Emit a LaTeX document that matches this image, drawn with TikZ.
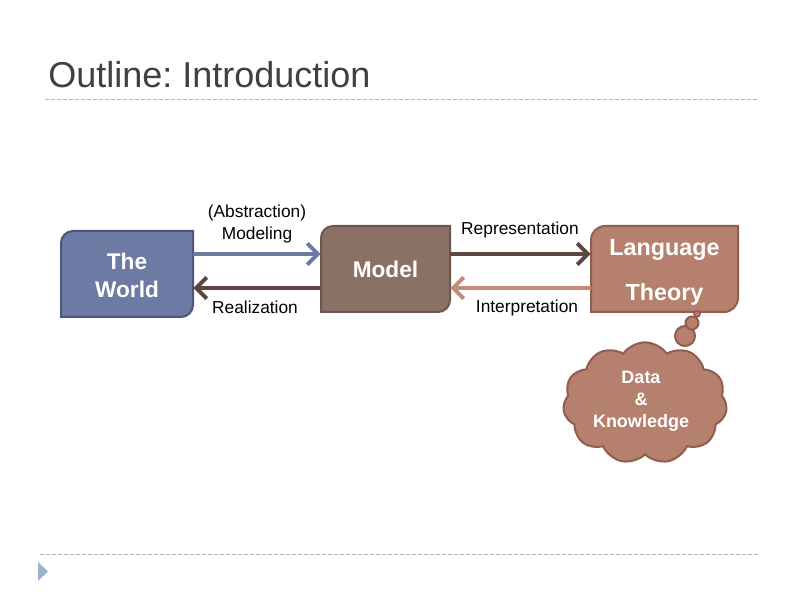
\documentclass[tikz,border=0pt]{standalone}
\usepackage{fontspec}
\setmainfont{Liberation Sans}
\usetikzlibrary{arrows.meta,shapes.symbols}
\definecolor{titlegray}{HTML}{404040}
\definecolor{dashgray}{HTML}{B4B4B4}
\definecolor{tri}{HTML}{9EB1CD}
\definecolor{worldfill}{HTML}{6C7AA4}
\definecolor{worldline}{HTML}{4B5680}
\definecolor{modelfill}{HTML}{8B7065}
\definecolor{modelline}{HTML}{6E5650}
\definecolor{ltfill}{HTML}{B5806D}
\definecolor{ltline}{HTML}{8F5E4E}
\definecolor{darkbrown}{HTML}{5E4640}
\definecolor{lightbrown}{HTML}{C48B78}
\frenchspacing
\tikzset{
  boxtext/.style={text=white,font=\bfseries\fontsize{17}{21}\selectfont,align=center,inner sep=0pt},
  lbl/.style={text=black,font=\fontsize{13}{16.5}\selectfont,align=center,inner sep=0pt},
  conn/.style={line width=3pt,-{Straight Barb[length=8pt,width=16pt,line width=3pt]}},
  sep/.style={draw=dashgray,line width=0.75pt,dash pattern=on 3pt off 1.5pt}
}
\begin{document}
\begin{tikzpicture}[x=0.75pt,y=0.75pt]
\useasboundingbox (0,0) rectangle (800,600);
\fill[white] (0,0) rectangle (800,600);
% title and separators
\node[anchor=base west,inner sep=0pt,text=titlegray,font=\fontsize{27}{32}\selectfont] (title) at (48,512) {Outline: Introduction};
\draw[sep] (45,500) -- (758,500);
\draw[sep] (40,45) -- (758,45);
\fill[tri] (38,38) -- (38,19) -- (48,28.5) -- cycle;
% boxes
\filldraw[fill=worldfill,draw=worldline,line width=1.5pt]
  (61,283) -- (61,357) arc[start angle=180,end angle=90,radius=12] -- (193,369) -- (193,295) arc[start angle=0,end angle=-90,radius=12] -- cycle;
\filldraw[fill=modelfill,draw=modelline,line width=1.5pt]
  (321,288) -- (321,362) arc[start angle=180,end angle=90,radius=12] -- (450,374) -- (450,300) arc[start angle=0,end angle=-90,radius=12] -- cycle;
\filldraw[fill=ltfill,draw=ltline,line width=1.5pt]
  (591,288) -- (591,360) arc[start angle=180,end angle=90,radius=14] -- (738,374) -- (738,302) arc[start angle=0,end angle=-90,radius=14] -- cycle;
\node[boxtext,minimum width=99pt,minimum height=64.5pt] (world) at (127,325) {The\\World};
\node[boxtext,minimum width=96.75pt,minimum height=64.5pt] (model) at (385.5,331) {Model};
\node[boxtext,minimum width=110.25pt,minimum height=64.5pt,font=\bfseries\fontsize{17.5}{33.75}\selectfont] (lt) at (664.5,328) {Language\\Theory};
% connector levels
\coordinate (yup) at (0,346);
\coordinate (ydn) at (0,312);
\draw[conn,draw=worldfill] (world.east |- yup) -- (model.west |- yup);
\draw[conn,draw=darkbrown] (model.west |- ydn) -- (world.east |- ydn);
\draw[conn,draw=darkbrown] (model.east |- yup) -- (lt.west |- yup);
\draw[conn,draw=lightbrown] (lt.west |- ydn) -- (model.east |- ydn);
% labels
\node[lbl] (lmod) at (257,376) {(Abstraction)\\Modeling};
\node[lbl] (lreal) at (255,293) {Realization};
\node[lbl] (lrep) at (520,370) {Representation};
\node[lbl] (lint) at (527,292) {Interpretation};
% cloud
\node[cloud,cloud puffs=11,cloud puff arc=110,fill=ltfill,draw=ltline,line width=1.5pt,
  minimum width=123pt,minimum height=91pt,inner sep=0pt] (cloud) at (645,197) {};
\node[boxtext,font=\bfseries\fontsize{13.5}{16.5}\selectfont] (ctext) at (641,199) {Data\\\&\\Knowledge};
\filldraw[fill=ltfill,draw=ltline,line width=1.5pt] (685,264) circle[radius=10];
\filldraw[fill=ltfill,draw=ltline,line width=1.5pt] (692,277) circle[radius=6.5];
\filldraw[fill=ltfill,draw=ltline,line width=1.2pt] (697,286) circle[radius=3];
\end{tikzpicture}
\end{document}
